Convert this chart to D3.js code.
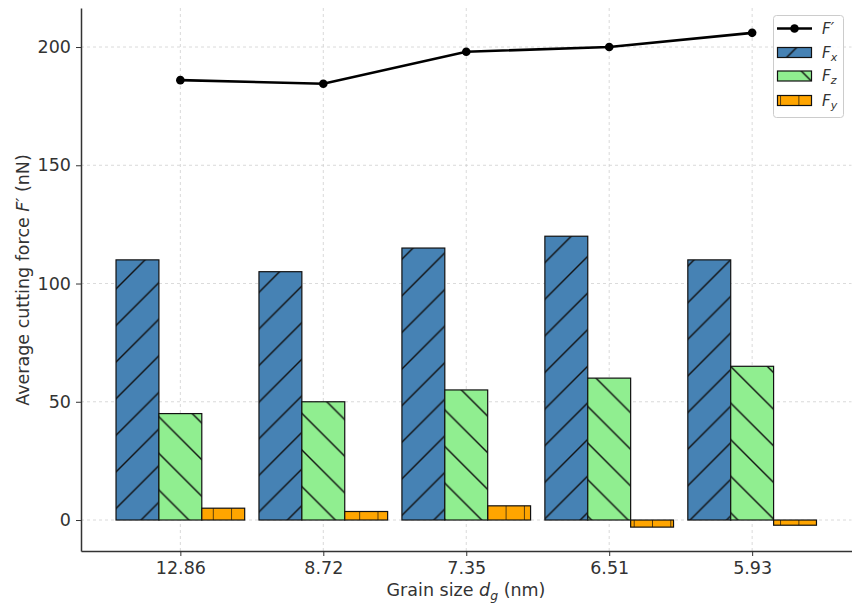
<!DOCTYPE html>
<html>
<head>
<meta charset="utf-8">
<script src="https://cdn.jsdelivr.net/npm/d3@7"></script>
<style>
  body { margin: 0; background: #fff; }
  svg text { font-family: "DejaVu Sans", sans-serif; fill: #333; }
  .tick line { stroke: #333; }
  .grid line { stroke: #d0d0d0; stroke-dasharray: 3,3; stroke-width: 0.8; }
</style>
</head>
<body>
<div id="chart"></div>
<script>
// grain sizes (nm) and forces (nN)
const categories = ["12.86", "8.72", "7.35", "6.51", "5.93"];
const fPrime = [186, 184.5, 198, 200, 206];
const fx = [110, 105, 115, 120, 110];
const fz = [45, 50, 55, 60, 65];
const fy = [5, 3.6, 6, -3, -2.2];
const yTicks = [0, 50, 100, 150, 200];

const W = 853, H = 604;
const svg = d3.select("#chart").append("svg")
  .attr("width", W)
  .attr("height", H);

const x = d3.scaleLinear().domain([-0.695, 4.695]).range([81, 851.5]);
const y = d3.scaleLinear().domain([-13.1, 216.5]).range([551, 8]);
const bw = 0.3;

// hatch patterns, anchored to page space like matplotlib
const defs = svg.append("defs");
function hatch(id, fill, period, path, ox) {
  const p = defs.append("pattern")
    .attr("id", id)
    .attr("patternUnits", "userSpaceOnUse")
    .attr("x", ox).attr("y", 0)
    .attr("width", period).attr("height", period);
  p.append("rect").attr("width", period).attr("height", period).attr("fill", fill);
  p.append("path").attr("d", path(period))
    .attr("stroke", "#111").attr("stroke-width", 1.4).attr("fill", "none");
}
hatch("hx", "#4682b4", 36.6,
  s => `M-2,2L2,-2M0,${s}L${s},0M${s - 2},${s + 2}L${s + 2},${s - 2}`, 2.3);
hatch("hz", "#90ee90", 36.6,
  s => `M-2,${s - 2}L2,${s + 2}M0,0L${s},${s}M${s - 2},-2L${s + 2},2`, -1.7);
hatch("hy", "#ffa500", 18.3,
  s => `M0,-1L0,${s + 1}`, 11.5);

// grid
svg.append("g").attr("class", "grid")
  .selectAll("line.h").data(yTicks).join("line")
  .attr("x1", 81).attr("x2", 851.5)
  .attr("y1", d => y(d)).attr("y2", d => y(d));
svg.append("g").attr("class", "grid")
  .selectAll("line.v").data(categories).join("line")
  .attr("x1", (d, i) => x(i)).attr("x2", (d, i) => x(i))
  .attr("y1", 8).attr("y2", 551);

// bars
const series = [
  { vals: fx, off: -bw, fill: "url(#hx)" },
  { vals: fz, off: 0, fill: "url(#hz)" },
  { vals: fy, off: bw, fill: "url(#hy)" }
];
series.forEach(s => {
  svg.append("g").selectAll("rect").data(s.vals).join("rect")
    .attr("x", (d, i) => x(i + s.off - bw / 2))
    .attr("width", x(bw) - x(0))
    .attr("y", d => y(Math.max(d, 0)))
    .attr("height", d => Math.abs(y(d) - y(0)))
    .attr("fill", s.fill)
    .attr("stroke", "#111")
    .attr("stroke-width", 1.2);
});

// F' line
const line = d3.line().x((d, i) => x(i)).y(d => y(d));
svg.append("path").datum(fPrime)
  .attr("d", line)
  .attr("fill", "none")
  .attr("stroke", "#000")
  .attr("stroke-width", 2.6);
svg.append("g").selectAll("circle").data(fPrime).join("circle")
  .attr("cx", (d, i) => x(i))
  .attr("cy", d => y(d))
  .attr("r", 4.3)
  .attr("fill", "#000");

// axes
const yAxis = svg.append("g")
  .attr("transform", "translate(81,0)")
  .call(d3.axisLeft(y).tickValues(yTicks).tickSize(5).tickSizeOuter(0).tickPadding(5));
const xAxis = svg.append("g")
  .attr("transform", "translate(0,551)")
  .call(d3.axisBottom(x).tickValues(d3.range(categories.length))
    .tickFormat(i => categories[i]).tickSize(5).tickSizeOuter(0).tickPadding(6));
[yAxis, xAxis].forEach(a => {
  a.select(".domain").attr("stroke", "#333").attr("stroke-width", 1.5);
  a.selectAll("text").style("font-size", "17.5px");
});

// axis labels
const yl = svg.append("text")
  .attr("transform", "translate(29,280) rotate(-90)")
  .attr("text-anchor", "middle")
  .style("font-size", "17.5px");
yl.append("tspan").text("Average cutting force ");
yl.append("tspan").style("font-style", "italic").text("F\u2032");
yl.append("tspan").text(" (nN)");

const xl = svg.append("text")
  .attr("x", 466).attr("y", 596)
  .attr("text-anchor", "middle")
  .style("font-size", "17.5px");
xl.append("tspan").text("Grain size ");
xl.append("tspan").style("font-style", "italic").text("d");
xl.append("tspan").style("font-style", "italic").style("font-size", "12.5px")
  .attr("dy", 4).text("g");
xl.append("tspan").attr("dy", -4).text(" (nm)");

// legend
const lg = svg.append("g");
lg.append("rect")
  .attr("x", 773.5).attr("y", 15.5).attr("width", 70).attr("height", 102)
  .attr("rx", 3).attr("fill", "#fff").attr("fill-opacity", 0.85)
  .attr("stroke", "#ccc");
lg.append("line").attr("x1", 777).attr("x2", 812).attr("y1", 28.5).attr("y2", 28.5)
  .attr("stroke", "#000").attr("stroke-width", 2.6);
lg.append("circle").attr("cx", 794.5).attr("cy", 28.5).attr("r", 4.3).attr("fill", "#000");
const legendItems = [
  { fill: "url(#hx)", sub: "x", y: 47.5 },
  { fill: "url(#hz)", sub: "z", y: 71 },
  { fill: "url(#hy)", sub: "y", y: 95.5 }
];
legendItems.forEach(d => {
  lg.append("rect").attr("x", 777.5).attr("y", d.y).attr("width", 34).attr("height", 10)
    .attr("fill", d.fill).attr("stroke", "#111").attr("stroke-width", 1.2);
  const t = lg.append("text").attr("x", 822).attr("y", d.y + 10)
    .style("font-size", "15px").style("font-style", "italic");
  t.append("tspan").text("F");
  t.append("tspan").style("font-size", "11px").attr("dy", 3).text(d.sub);
});
lg.append("text").attr("x", 822).attr("y", 34)
  .style("font-size", "15px").style("font-style", "italic").text("F\u2032");
</script>
</body>
</html>
